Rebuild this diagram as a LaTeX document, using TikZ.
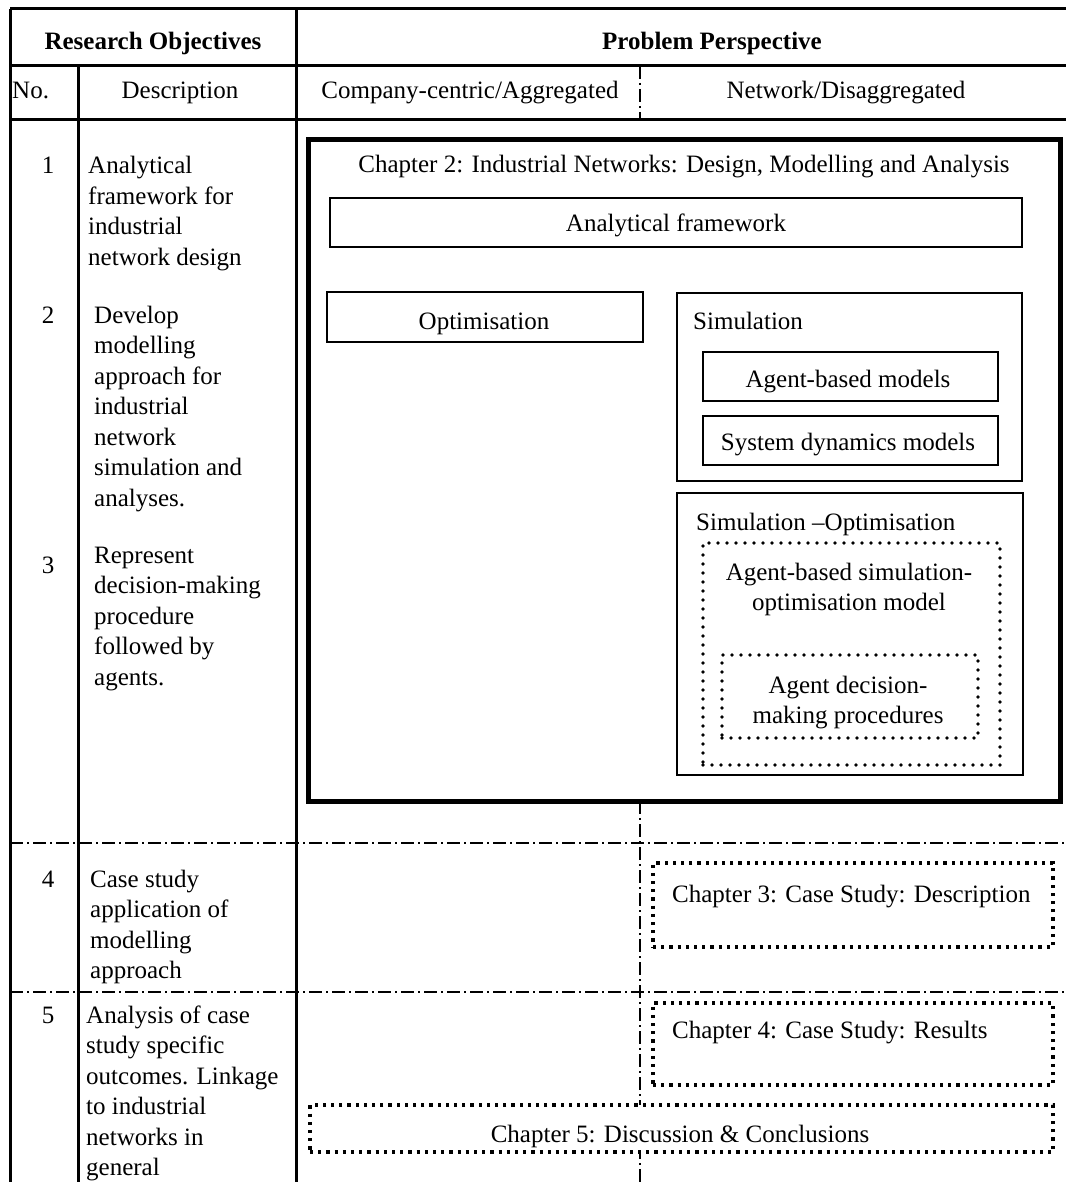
\documentclass[tikz,border=0pt]{standalone}
\usepackage{fontspec}
\setmainfont{Liberation Serif}
\usetikzlibrary{fit}
% left-aligned (or centred) block of lines whose baseline is the first line
\newcommand{\stack}[2][l]{\begin{tabular}[t]{@{}#1@{}}#2\end{tabular}}
\begin{document}
\begin{tikzpicture}[x=1pt,y=-1pt,
  font=\fontsize{25}{30.5}\selectfont,
  txt/.style={inner sep=0pt, anchor=base},
  ltxt/.style={inner sep=0pt, anchor=base west},
  rule/.style={line width=3pt},
  dashdot/.style={line width=1.4pt, dash pattern=on 13pt off 4pt on 2pt off 4pt},
  chapbox/.style={draw, line width=5pt, inner sep=0pt},
  solidbox/.style={draw, line width=2.5pt, inner sep=0pt},
  dotbox/.style={draw, line width=3.6pt, line cap=round, dash pattern=on 0pt off 9pt, inner sep=0pt},
  sqdotbox/.style={draw, line width=3.2pt, dash pattern=on 3.2pt off 5pt, inner sep=0pt},
]
\useasboundingbox (0,0) rectangle (1066,1182);

% ---- table grid ----
\coordinate (tl) at (10,9);
\coordinate (tr) at (1066,9);
\coordinate (h1l) at (10,66);
\coordinate (h1r) at (1066,66);
\coordinate (h2l) at (10,120);
\coordinate (h2r) at (1066,120);
\coordinate (bl) at (10,1182);
\coordinate (c1t) at (78,66);
\coordinate (c1b) at (78,1182);
\coordinate (c2t) at (296,9);
\coordinate (c2b) at (296,1182);
\coordinate (pvt) at (640,66);
\coordinate (pvm) at (640,120);
\coordinate (pvl) at (640,801);
\coordinate (pvb) at (640,1182);
\coordinate (r4l) at (10,843);
\coordinate (r4r) at (1066,843);
\coordinate (r5l) at (10,992);
\coordinate (r5r) at (1066,992);

\draw[rule] (tl) -- (tr);
\draw[rule] (h1l) -- (h1r);
\draw[rule] (h2l) -- (h2r);
\draw[rule] (tl) -- (bl);
\draw[rule] (c1t) -- (c1b);
\draw[rule] (c2t) -- (c2b);
\draw[dashdot] (pvt) -- (pvm);
\draw[dashdot] (pvl) -- (pvb);
\draw[dashdot] (r4l) -- (r4r);
\draw[dashdot] (r5l) -- (r5r);

% ---- headers ----
\node[txt, font=\fontsize{25}{30.5}\selectfont\bfseries] (hRO) at (153,50) {Research Objectives};
\node[txt, font=\fontsize{25}{30.5}\selectfont\bfseries] (hPP) at (712,50) {Problem Perspective};
\node[ltxt] (hNo) at (12,99) {No.};
\node[txt] (hDesc) at (180,99) {Description};
\node[txt] (hComp) at (470,99) {Company-centric/Aggregated};
\node[txt] (hNet) at (846,99) {Network/Disaggregated};

% ---- research objectives ----
\node[txt] (n1) at (48,174) {1};
\node[ltxt] (d1) at (88,174) {\stack{Analytical\\framework for\\industrial\\network design}};
\node[txt] (n2) at (48,323) {2};
\node[ltxt] (d2) at (94,323) {\stack{Develop\\modelling\\approach for\\industrial\\network\\simulation and\\analyses.}};
\node[txt] (n3) at (48,573) {3};
\node[ltxt] (d3) at (94,563) {\stack{Represent\\decision-making\\procedure\\followed by\\agents.}};
\node[txt] (n4) at (48,887) {4};
\node[ltxt] (d4) at (90,887) {\stack{Case study\\application of\\modelling\\approach}};
\node[txt] (n5) at (48,1023) {5};
\node[ltxt] (d5) at (86,1023) {\stack{Analysis of case\\study specific\\outcomes. Linkage\\to industrial\\networks in\\general}};

% ---- chapter 2 ----
\node[chapbox, fill=white, fit={(308,140) (1060,801)}] (ch2) {};
\node[txt] (ch2t) at (684,173) {Chapter 2: Industrial Networks: Design, Modelling and Analysis};

\node[solidbox, fit={(330,198) (1022,247)}] (afbox) {};
\node[txt] (aft) at (676,232) {Analytical framework};

\node[solidbox, fit={(327,292) (643,342)}] (optbox) {};
\node[txt] (optt) at (484,329) {Optimisation};

\node[solidbox, fit={(677,293) (1022,481)}] (simbox) {};
\node[ltxt] (simt) at (693,329) {Simulation};
\node[solidbox, fit={(703,352) (998,401)}] (abm) {};
\node[txt] (abmt) at (848,387) {Agent-based models};
\node[solidbox, fit={(703,416) (998,465)}] (sdm) {};
\node[txt] (sdmt) at (848,450) {System dynamics models};

\node[solidbox, fit={(677,493) (1023,775)}] (sobox) {};
\node[ltxt] (sot) at (696,530) {Simulation –Optimisation};
\node[dotbox, fit={(703,543) (1000,765)}] (absom) {};
\node[txt] (absomt) at (849,580) {\stack[c]{Agent-based simulation-\\optimisation model}};
\node[dotbox, fit={(722,655) (978,738)}] (adm) {};
\node[txt] (admt) at (848,693) {\stack[c]{Agent decision-\\making procedures}};

% ---- chapters 3 to 5 ----
\node[sqdotbox, fit={(653,863) (1053,947)}] (ch3) {};
\node[ltxt] (ch3t) at (672,902) {Chapter 3: Case Study: Description};
\node[sqdotbox, fit={(653,1003) (1053,1085)}] (ch4) {};
\node[ltxt] (ch4t) at (672,1038) {Chapter 4: Case Study: Results};
\node[sqdotbox, fill=white, fit={(310,1105) (1053,1152)}] (ch5) {};
\node[txt] (ch5t) at (680,1142) {Chapter 5: Discussion \& Conclusions};
\end{tikzpicture}
\end{document}
